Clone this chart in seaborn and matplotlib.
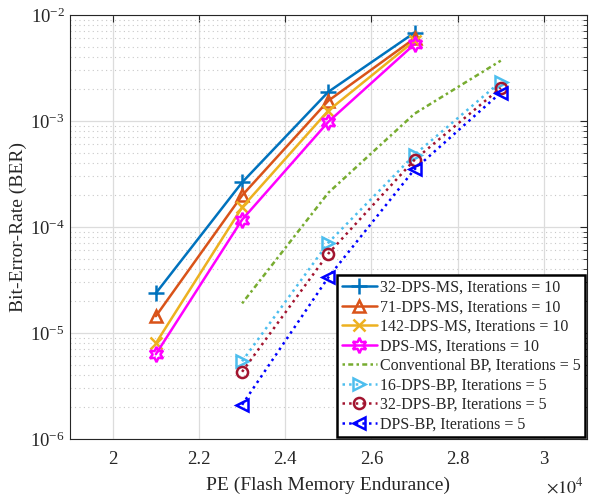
import numpy as np
import pandas as pd
import matplotlib
matplotlib.use("Agg")
import matplotlib.pyplot as plt
import seaborn as sns
from matplotlib.ticker import FuncFormatter, LogLocator, NullFormatter

# Data
pe_ms = [21000, 23000, 25000, 27000]
pe_bp = [23000, 25000, 27000, 29000]

ber_32_ms = [2.37e-5, 2.63e-4, 1.88e-3, 6.8e-3]
ber_71_ms = [1.44e-5, 1.98e-4, 1.55e-3, 6.0e-3]
ber_142_ms = [8.0e-6, 1.53e-4, 1.25e-3, 5.7e-3]
ber_dps_ms = [6.3e-6, 1.17e-4, 9.8e-4, 5.3e-3]
ber_conv_bp = [1.9e-5, 2.1e-4, 1.17e-3, 3.7e-3]
ber_16_bp = [5.4e-6, 7.1e-5, 4.8e-4, 2.35e-3]
ber_32_bp = [4.3e-6, 5.6e-5, 4.3e-4, 2.05e-3]
ber_dps_bp = [2.1e-6, 3.35e-5, 3.5e-4, 1.85e-3]

labels = ["32-DPS-MS, Iterations = 10", "71-DPS-MS, Iterations = 10",
          "142-DPS-MS, Iterations = 10", "DPS-MS, Iterations = 10",
          "Conventional BP, Iterations = 5", "16-DPS-BP, Iterations = 5",
          "32-DPS-BP, Iterations = 5", "DPS-BP, Iterations = 5"]

sns.set_style("white")
plt.rcParams['font.family'] = ['Liberation Serif', 'DejaVu Serif']
plt.rcParams['mathtext.fontset'] = 'stix'

fig = plt.figure(figsize=(5.9, 4.96), dpi=100)
ax = fig.add_axes([0.118, 0.115, 0.877, 0.855])

series = [
    (pe_ms, ber_32_ms, "#0072BD", "+", "-", 11),
    (pe_ms, ber_71_ms, "#D95319", "^", "-", 9),
    (pe_ms, ber_142_ms, "#EDB120", "x", "-", 8),
    (pe_ms, ber_dps_ms, "#FF00FF", (6, 1, 0), "-", 11),
    (pe_bp, ber_conv_bp, "#77AC30", None, (0, (1, 1.3, 2, 1.3)), 0),
    (pe_bp, ber_16_bp, "#4DBEEE", ">", ":", 9),
    (pe_bp, ber_32_bp, "#A2142F", "o", ":", 8),
    (pe_bp, ber_dps_bp, "#0000FF", "<", ":", 9),
]

for (x, y, c, m, ls, ms), lab in zip(series, labels):
    df = pd.DataFrame({"PE": x, "BER": y})
    sns.lineplot(data=df, x="PE", y="BER", ax=ax, color=c, marker=m,
                 linestyle=ls, linewidth=1.8, markersize=ms,
                 markerfacecolor="none", markeredgecolor=c,
                 markeredgewidth=1.8, label=lab)

ax.set_yscale("log")
ax.set_xlim(19000, 31000)
ax.set_ylim(1e-6, 1e-2)
ax.set_xticks([20000, 22000, 24000, 26000, 28000, 30000])
ax.xaxis.set_major_formatter(FuncFormatter(lambda v, _: f"{v/1e4:g}"))
ax.yaxis.set_major_locator(LogLocator(base=10, numticks=10))
ax.yaxis.set_minor_locator(LogLocator(base=10, subs=np.arange(2, 10), numticks=10))
ax.yaxis.set_minor_formatter(NullFormatter())

ax.grid(True, which="major", color="#dcdcdc", linewidth=0.9, linestyle="-")
ax.grid(True, which="minor", axis="y", color="#c8c8c8", linewidth=0.8, linestyle=(0, (1, 3)))
ax.set_axisbelow(True)

ax.tick_params(which="both", direction="in", top=True, right=True,
               labelsize=13.5, color="#262626")
ax.tick_params(which="major", length=5)
ax.tick_params(which="minor", length=3)
ax.tick_params(axis="x", pad=9)
for s in ax.spines.values():
    s.set_color("#262626")
    s.set_linewidth(0.8)

ax.set_xlabel("PE (Flash Memory Endurance)", fontsize=14, labelpad=6)
ax.set_ylabel("Bit-Error-Rate (BER)", fontsize=14, labelpad=2)
ax.text(0.993, -0.09, r"$\times10^{4}$", transform=ax.transAxes,
        ha="right", va="top", fontsize=13)

leg = ax.legend(loc="lower right", fontsize=11.5, frameon=True, fancybox=False,
                borderaxespad=0.1, handlelength=2.2, handletextpad=0.2,
                labelspacing=0.22, borderpad=0.3)
leg.get_frame().set_edgecolor("black")
leg.get_frame().set_linewidth(1.8)
leg.get_frame().set_alpha(1)

fig.savefig("out.png", dpi=100)
